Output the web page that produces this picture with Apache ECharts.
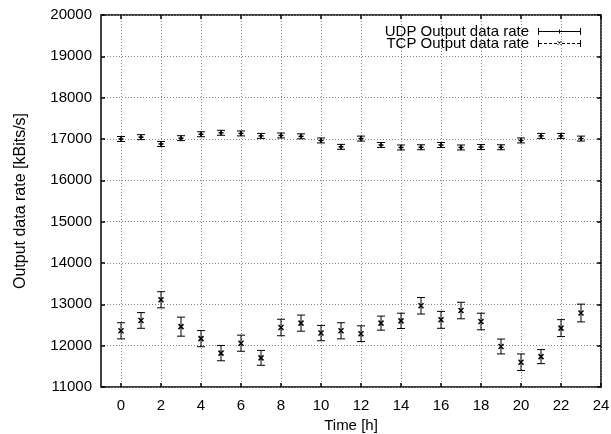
<!DOCTYPE html>
<html>
<head>
<meta charset="utf-8">
<script src="https://cdn.jsdelivr.net/npm/echarts@6/dist/echarts.min.js"></script>
<style>
  html, body { margin: 0; padding: 0; background: #fff; }
  #chart { width: 611px; height: 434px; }
</style>
</head>
<body>
<div id="chart"></div>
<script>
// Hours of the day
const hours = [0, 1, 2, 3, 4, 5, 6, 7, 8, 9, 10, 11, 12, 13, 14, 15, 16, 17, 18, 19, 20, 21, 22, 23];

// UDP output data rate [kBits/s] and error
const udpRate = [17000, 17045, 16880, 17020, 17115, 17150, 17135, 17075, 17085, 17065, 16965, 16810,
                 17010, 16855, 16795, 16800, 16855, 16795, 16805, 16800, 16965, 17075, 17075, 17010];
const udpErr = [60, 60, 60, 60, 60, 60, 60, 60, 60, 60, 60, 60,
                60, 60, 60, 60, 60, 60, 60, 60, 60, 60, 60, 60];

// TCP output data rate [kBits/s] and error
const tcpRate = [12360, 12610, 13110, 12460, 12170, 11820, 12060, 11705, 12440, 12545, 12305, 12360,
                 12290, 12545, 12600, 12965, 12625, 12850, 12585, 11980, 11600, 11735, 12425, 12790];
const tcpErr = [195, 190, 195, 230, 195, 185, 195, 180, 200, 195, 185, 195,
                190, 170, 185, 200, 205, 200, 200, 180, 200, 170, 205, 215];

// Tick labels
const xTicks = [0, 2, 4, 6, 8, 10, 12, 14, 16, 18, 20, 22, 24];

const fontFam = '"Liberation Sans", Arial, sans-serif';
const chart = echarts.init(document.getElementById('chart'));

// error bar: vertical line + caps + point marker
function errorBarRenderer(markerType) {
    return function (params, api) {
        const x = api.value(0);
        const y = api.value(1);
        const e = api.value(2);
        const lo = api.coord([x, y - e]);
        const hi = api.coord([x, y + e]);
        const c = api.coord([x, y]);
        const cap = 4;
        const st = { stroke: '#000', lineWidth: 1 };
        const children = [
            { type: 'line', shape: { x1: lo[0], y1: lo[1], x2: hi[0], y2: hi[1] }, style: st },
            { type: 'line', shape: { x1: lo[0] - cap, y1: lo[1], x2: lo[0] + cap, y2: lo[1] }, style: st },
            { type: 'line', shape: { x1: hi[0] - cap, y1: hi[1], x2: hi[0] + cap, y2: hi[1] }, style: st }
        ];
        const m = 2.5;
        const ms = { stroke: '#000', lineWidth: 1.5 };
        if (markerType === 'x') {
            children.push({ type: 'line', shape: { x1: c[0] - m, y1: c[1] - m, x2: c[0] + m, y2: c[1] + m }, style: ms });
            children.push({ type: 'line', shape: { x1: c[0] - m, y1: c[1] + m, x2: c[0] + m, y2: c[1] - m }, style: ms });
        } else {
            children.push({ type: 'line', shape: { x1: c[0] - m, y1: c[1], x2: c[0] + m, y2: c[1] }, style: ms });
            children.push({ type: 'line', shape: { x1: c[0], y1: c[1] - m, x2: c[0], y2: c[1] + m }, style: ms });
        }
        return { type: 'group', children: children };
    };
}

const udpIcon = 'path://M0,0h1v7h-1z M0,3h43v1h-43z M42,0h1v7h-1z M21,1.5h1v4h-1z';
const tcpIcon = 'path://M0,0h1v7h-1z M42,0h1v7h-1z M1,3h3v1h-3z M6,3h3v1h-3z M11,3h3v1h-3z M16,3h3v1h-3z ' +
    'M24,3h3v1h-3z M29,3h3v1h-3z M34,3h3v1h-3z M39,3h3v1h-3z ' +
    'M19,1L20,1L24,5L23,5Z M23,1L24,1L20,5L19,5Z';

const dotted = { color: '#888', type: [1, 2], width: 1 };
const tickStyle = { color: '#000', width: 1.5 };

let option = {
    animation: false,
    backgroundColor: '#fff',
    textStyle: { fontFamily: fontFam },
    grid: {
        left: 101, right: 10, top: 15, bottom: 47, outerBoundsMode: 'none',
        show: true, borderColor: '#000', borderWidth: 1.5, backgroundColor: 'transparent'
    },
    legend: {
        orient: 'vertical',
        align: 'right',
        right: 25,
        top: 19,
        itemWidth: 43,
        itemHeight: 7,
        itemGap: -3,
        selectedMode: false,
        textStyle: { fontSize: 15, color: '#000', fontFamily: fontFam, padding: [0, 4, 0, 0] },
        data: [
            { name: 'UDP Output data rate', icon: udpIcon, itemStyle: { color: '#000' } },
            { name: 'TCP Output data rate', icon: tcpIcon, itemStyle: { color: '#000' } }
        ]
    },
    xAxis: [
        {
            type: 'value', min: -1, max: 24,
            name: 'Time [h]', nameLocation: 'middle', nameGap: 26,
            nameTextStyle: { fontSize: 15, color: '#000', fontFamily: fontFam },
            axisLine: { show: false, onZero: false },
            axisTick: { show: true, inside: true, length: 4, customValues: xTicks, lineStyle: tickStyle },
            axisLabel: { customValues: xTicks, fontSize: 15, color: '#000', margin: 11, fontFamily: fontFam },
            splitLine: { show: true, lineStyle: dotted }
        },
        {
            type: 'value', min: -1, max: 24, position: 'top',
            axisLine: { show: false, onZero: false },
            axisTick: { show: true, inside: true, length: 4, customValues: xTicks, lineStyle: tickStyle },
            axisLabel: { show: false },
            splitLine: { show: false }
        }
    ],
    yAxis: [
        {
            type: 'value', min: 11000, max: 20000, interval: 1000,
            name: 'Output data rate [kBits/s]', nameLocation: 'middle', nameGap: 72,
            nameTextStyle: { fontSize: 16, color: '#000', fontFamily: fontFam },
            axisLine: { show: false, onZero: false },
            axisTick: { show: true, inside: true, length: 4, lineStyle: tickStyle },
            axisLabel: { fontSize: 15, color: '#000', margin: 9, fontFamily: fontFam, formatter: v => String(v) },
            splitLine: { show: true, lineStyle: dotted }
        },
        {
            type: 'value', min: 11000, max: 20000, interval: 1000, position: 'right',
            axisLine: { show: false, onZero: false },
            axisTick: { show: true, inside: true, length: 4, lineStyle: tickStyle },
            axisLabel: { show: false },
            splitLine: { show: false }
        }
    ],
    series: [
        {
            name: 'UDP Output data rate',
            type: 'custom',
            renderItem: errorBarRenderer('+'),
            itemStyle: { color: '#000' },
            encode: { x: 0, y: 1 },
            data: hours.map((h, i) => [h, udpRate[i], udpErr[i]]),
            z: 5
        },
        {
            name: 'TCP Output data rate',
            type: 'custom',
            renderItem: errorBarRenderer('x'),
            itemStyle: { color: '#000' },
            encode: { x: 0, y: 1 },
            data: hours.map((h, i) => [h, tcpRate[i], tcpErr[i]]),
            z: 5
        }
    ]
};

chart.setOption(option);
</script>
</body>
</html>
